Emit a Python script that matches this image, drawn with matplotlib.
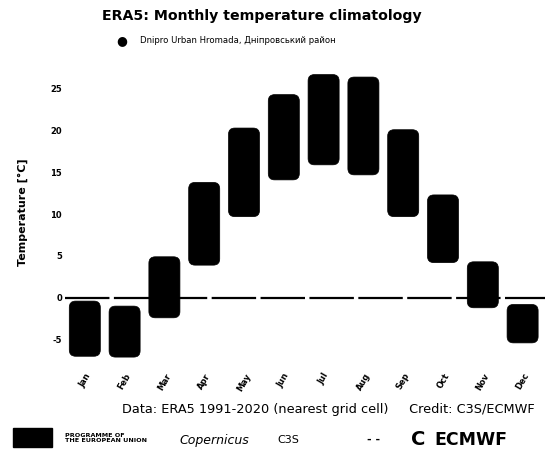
import numpy as np
import matplotlib.pyplot as plt
from matplotlib.patches import FancyBboxPatch

months = ["Jan", "Feb", "Mar", "Apr", "May", "Jun",
          "Jul", "Aug", "Sep", "Oct", "Nov", "Dec"]
t_min = [-7.0, -7.1, -2.4, 3.9, 9.7, 14.1, 15.9, 14.7, 9.7, 4.2, -1.2, -5.4]
t_max = [-0.4, -1.0, 4.9, 13.8, 20.3, 24.3, 26.7, 26.4, 20.1, 12.3, 4.3, -0.8]
y_ticks = [-5, 0, 5, 10, 15, 20, 25]

fig = plt.figure(figsize=(5.5, 4.61), dpi=100)
ax = fig.add_axes([0.118, 0.2, 0.872, 0.68])

x = np.arange(len(months))
lo = np.array(t_min)
hi = np.array(t_max)
w = 0.78

# rounded range bars
for xi, a, b in zip(x, lo, hi):
    box = FancyBboxPatch(
        (xi - w / 2, a),
        w,
        b - a,
        boxstyle="round,pad=0,rounding_size=0.16",
        mutation_aspect=4.7,
        facecolor="black",
        edgecolor="black",
        linewidth=0.5,
        zorder=2
    )
    ax.add_patch(box)

ax.axhline(0, color="black", lw=1.6, ls=(0, (20, 2)), zorder=1)

ax.set_xlim(-0.5, 11.55)
ax.set_ylim(-8.5, 29)
ax.set_yticks(y_ticks)
ax.set_yticklabels([str(v) for v in y_ticks], fontsize=6, fontweight="bold")
ax.set_xticks(x)
ax.set_xticklabels(months, rotation=60, fontsize=6, fontweight="bold")
ax.tick_params(axis="y", length=0, pad=2)
ax.tick_params(axis="x", length=0, pad=2)
for s in ax.spines.values():
    s.set_visible(False)

ax.set_ylabel("Temperature [°C]", fontsize=8, fontweight="bold", labelpad=16)

fig.text(0.477, 0.965, "ERA5: Monthly temperature climatology",
         ha="center", va="center", fontsize=10.2, fontweight="bold")
fig.text(0.222, 0.913, "●", ha="center", va="center", fontsize=9)
fig.text(0.254, 0.913, "Dnipro Urban Hromada, Дніпровський район",
         ha="left", va="center", fontsize=6.1)

fig.text(0.597, 0.111, "Data: ERA5 1991-2020 (nearest grid cell)     Credit: C3S/ECMWF",
         ha="center", va="center", fontsize=9.3)

# logos row
fig.patches.append(plt.Rectangle((0.024, 0.030), 0.071, 0.041,
                                 transform=fig.transFigure, color="black"))
fig.text(0.118, 0.050, "PROGRAMME OF\nTHE EUROPEAN UNION",
         ha="left", va="center", fontsize=4.6, fontweight="bold", linespacing=1.2)
fig.text(0.327, 0.044, "Copernicus", ha="left", va="center",
         fontsize=9, fontstyle="italic")
fig.text(0.504, 0.046, "C3S", ha="left", va="center", fontsize=8)
fig.text(0.667, 0.046, "- -", ha="left", va="center", fontsize=8, fontweight="bold")
fig.text(0.748, 0.046, "C", ha="left", va="center",
         fontsize=14, fontweight="bold")
fig.text(0.79, 0.046, "ECMWF", ha="left", va="center",
         fontsize=12.5, fontweight="bold")

fig.savefig("out.png", dpi=100)
